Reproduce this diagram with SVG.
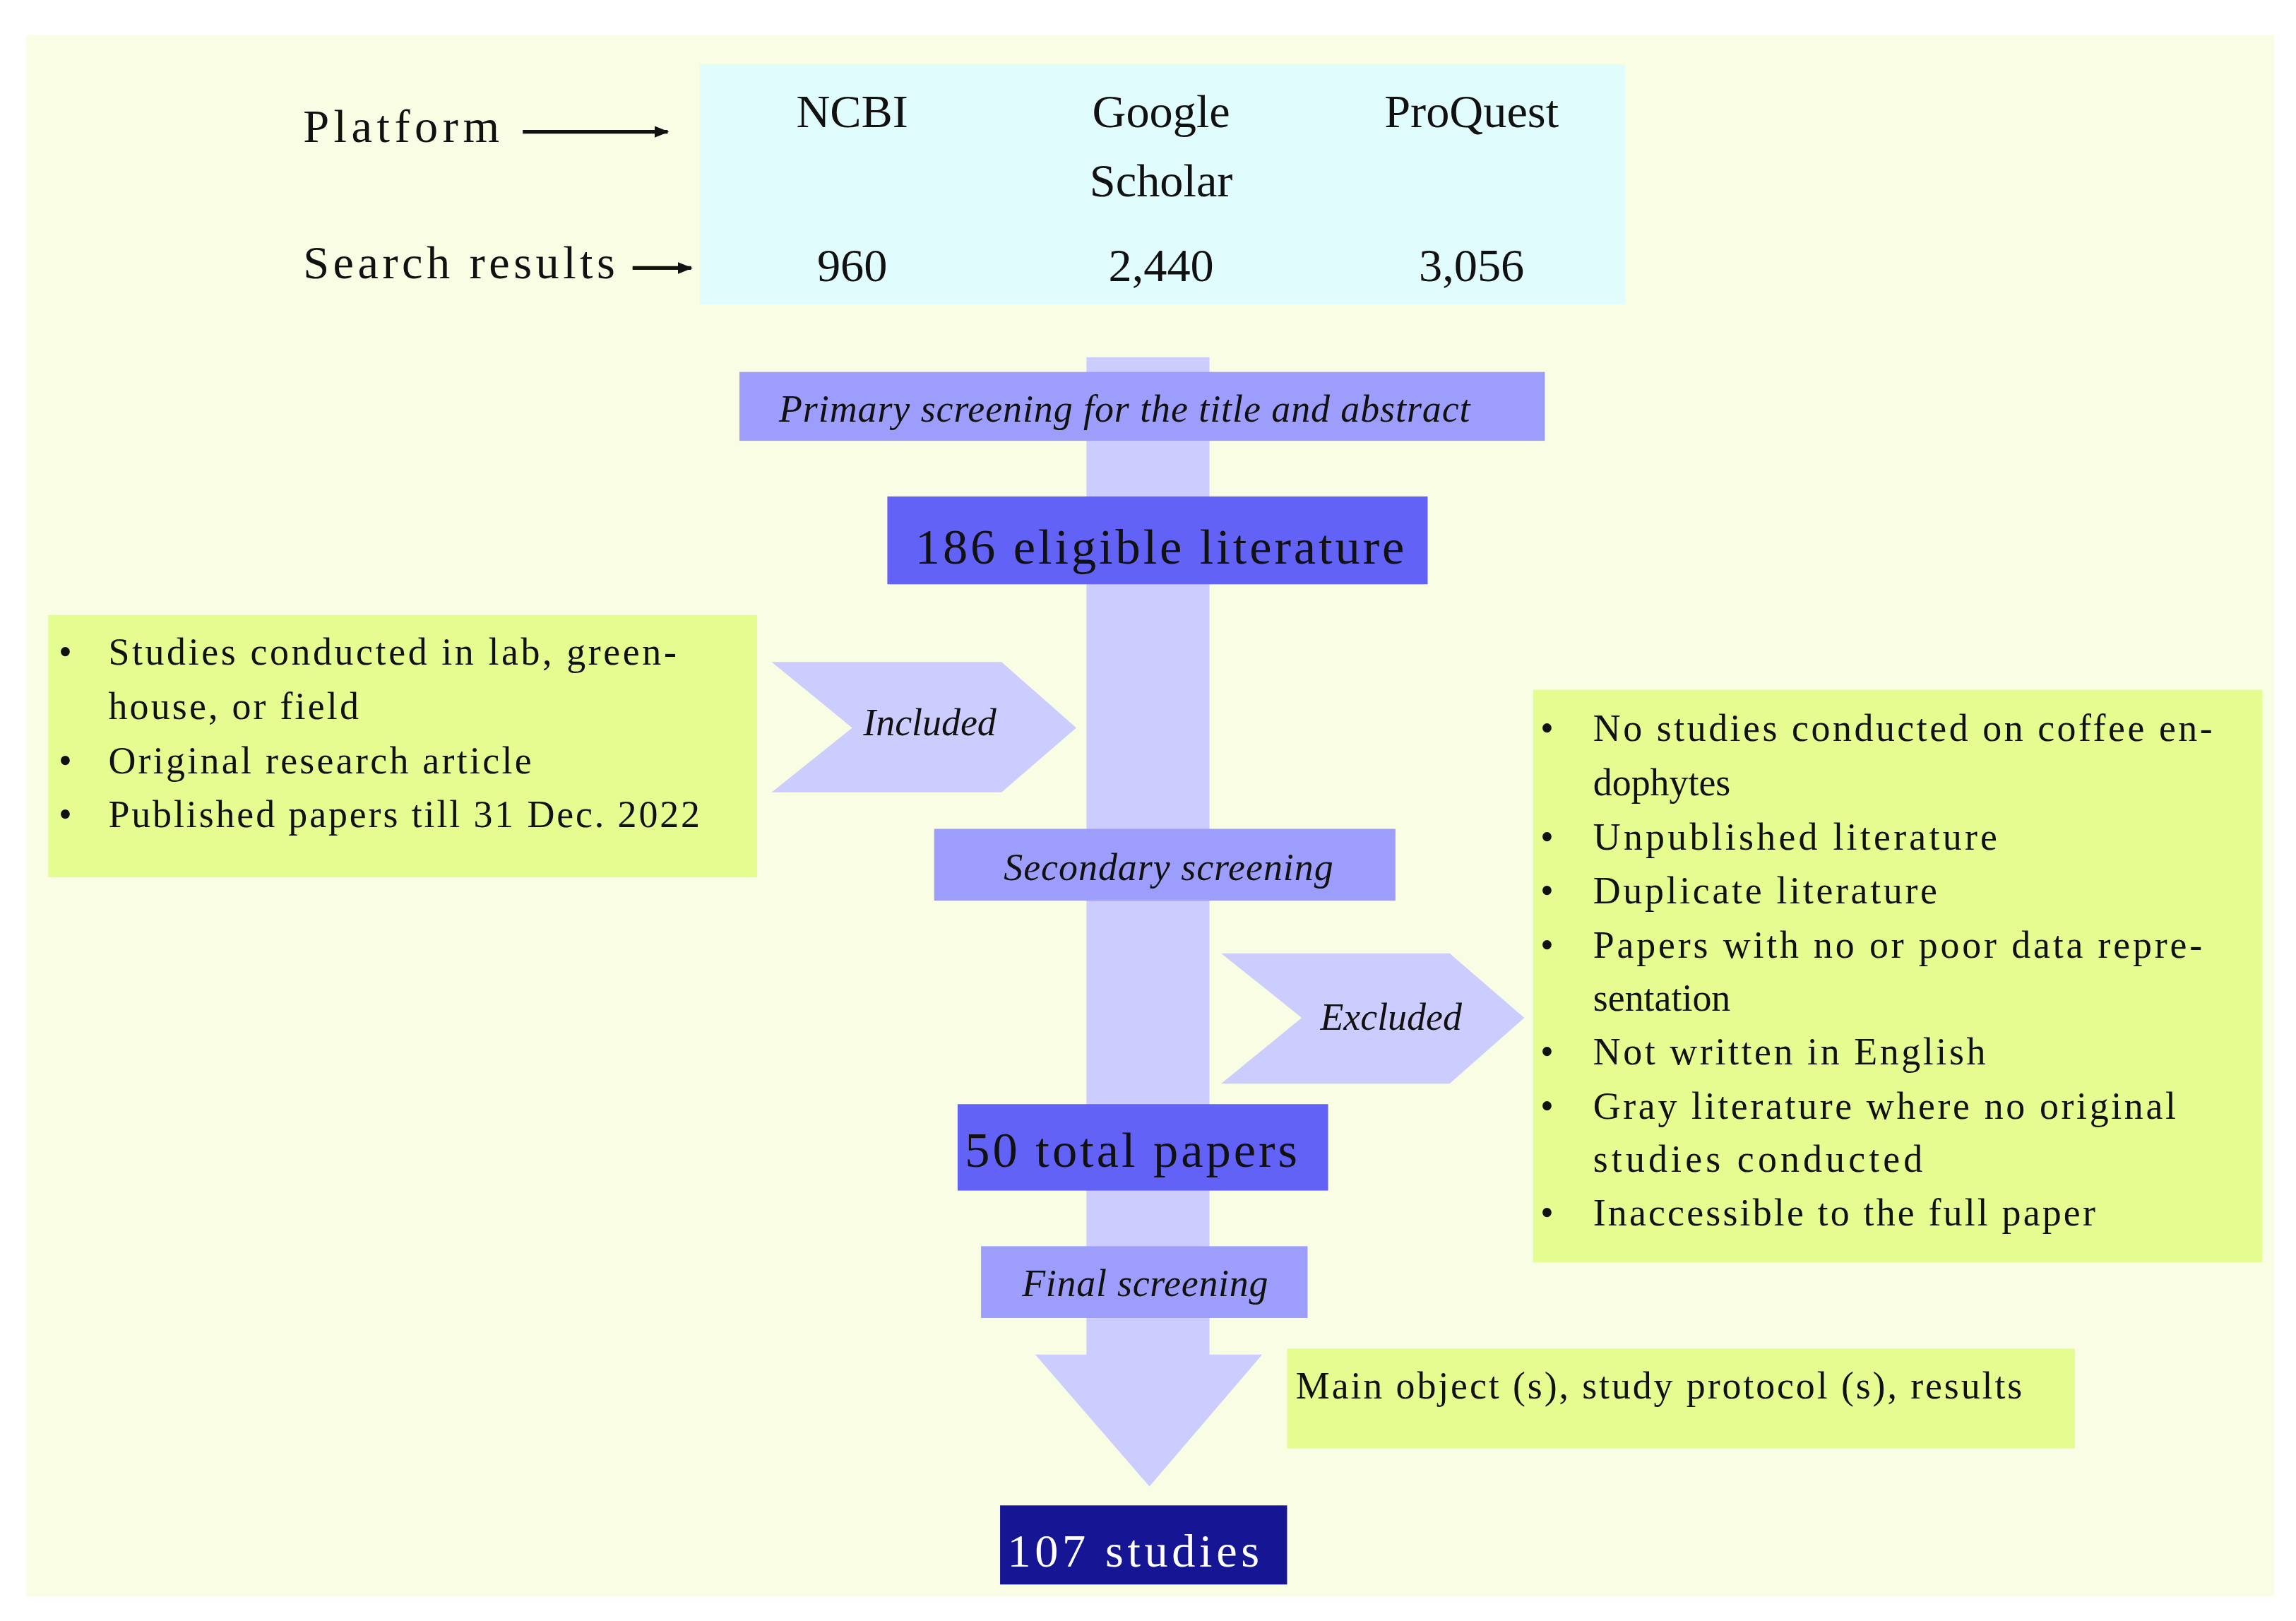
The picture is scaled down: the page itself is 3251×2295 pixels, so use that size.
<svg xmlns="http://www.w3.org/2000/svg" width="3251" height="2295" viewBox="0 0 3251 2295">
<style>
text{font-family:"Liberation Serif","Times New Roman",serif;fill:#111}
.t{font-size:27px}
.i{font-size:26px;font-style:italic}
.h{font-size:26px}
.big{font-size:34px}
.lav{fill:#ccccff}
.scr{fill:#9d9dfc}
.grn{fill:#e4fc90}
.mid{text-anchor:middle}
</style>
<defs><marker id="ah" markerWidth="10" markerHeight="8" refX="9" refY="4" orient="auto" markerUnits="userSpaceOnUse"><path d="M0,0L10,4L0,8z" fill="#111"/></marker></defs>
<rect width="3251" height="2295" fill="#fff"/>
<g transform="scale(2.0733)">
<rect x="18" y="24" width="1535" height="1066" fill="#f8fde4"/>
<g id="platforms">
<rect x="478" y="44" width="632" height="164" fill="#e0fcfc"/>
<text x="582" y="87" class="t mid" font-size="32" style="font-size:32px">NCBI</text>
<text x="793" y="87" class="t mid" style="font-size:32px">Google</text>
<text x="793" y="134" class="t mid" style="font-size:32px">Scholar</text>
<text x="1005" y="87" class="t mid" style="font-size:32px">ProQuest</text>
<text x="582" y="192" class="t mid" style="font-size:32px">960</text>
<text x="793" y="192" class="t mid" style="font-size:32px">2,440</text>
<text x="1005" y="192" class="t mid" style="font-size:32px">3,056</text>
</g>
<g id="labels">
<text x="207" y="97" style="font-size:32px" textLength="134">Platform</text>
<text x="207" y="190" style="font-size:32px" textLength="213">Search results</text>
</g>
<g id="connectors">
<line x1="357" y1="90" x2="456" y2="90" stroke="#111" stroke-width="2.5" marker-end="url(#ah)"/>
<line x1="432" y1="183" x2="472" y2="183" stroke="#111" stroke-width="2.5" marker-end="url(#ah)"/>
<rect x="742" y="244" width="84" height="682" class="lav"/>
<polygon points="707,925 862,925 785,1015" class="lav"/>
</g>
<g id="primary">
<rect x="505" y="254" width="550" height="47" class="scr"/>
<text x="532" y="288" class="i" textLength="472">Primary screening for the title and abstract</text>
</g>
<g id="eligible">
<rect x="606" y="339" width="369" height="60" fill="#6262f7"/>
<text x="625" y="385" class="big" textLength="334">186  eligible literature</text>
</g>
<g id="included-criteria">
<rect x="33" y="420" width="484" height="179" class="grn"/>
<g class="h">
<text x="40" y="454">•</text><text x="74" y="454" textLength="388">Studies conducted in lab, green-</text>
<text x="74" y="491" textLength="171">house, or field</text>
<text x="40" y="528">•</text><text x="74" y="528" textLength="289">Original research article</text>
<text x="40" y="565">•</text><text x="74" y="565" textLength="404">Published papers till 31 Dec. 2022</text>
</g>
</g>
<g id="included">
<polygon points="527,452 684,452 735,497 684,541 527,541 582,497" class="lav"/>
<text x="635" y="502" class="i mid">Included</text>
</g>
<g id="secondary">
<rect x="638" y="566" width="315" height="49" class="scr"/>
<text x="798" y="601" class="i mid" textLength="225">Secondary screening</text>
</g>
<g id="excluded">
<polygon points="834,651 990,651 1041,695 990,740 834,740 889,695" class="lav"/>
<text x="950" y="703" class="i mid">Excluded</text>
</g>
<g id="excluded-criteria">
<rect x="1047" y="471" width="498" height="391" class="grn"/>
<g class="h">
<text x="1052" y="506">•</text><text x="1088" y="506" textLength="423">No studies conducted on coffee en-</text>
<text x="1088" y="543">dophytes</text>
<text x="1052" y="580">•</text><text x="1088" y="580" textLength="276">Unpublished literature</text>
<text x="1052" y="617">•</text><text x="1088" y="617" textLength="235">Duplicate literature</text>
<text x="1052" y="654">•</text><text x="1088" y="654" textLength="416">Papers with no or poor data repre-</text>
<text x="1088" y="690">sentation</text>
<text x="1052" y="727">•</text><text x="1088" y="727" textLength="268">Not written in English</text>
<text x="1052" y="764">•</text><text x="1088" y="764" textLength="398">Gray literature where no original</text>
<text x="1088" y="800" textLength="225">studies  conducted</text>
<text x="1052" y="837">•</text><text x="1088" y="837" textLength="343">Inaccessible to the full paper</text>
</g>
</g>
<g id="total">
<rect x="654" y="754" width="253" height="59" fill="#6262f7"/>
<text x="659" y="797" class="big" textLength="227">50 total papers</text>
</g>
<g id="final">
<rect x="670" y="851" width="223" height="49" class="scr"/>
<text x="782" y="885" class="i mid" textLength="168">Final screening</text>
</g>
<g id="data">
<rect x="879" y="921" width="538" height="68" class="grn"/>
<text x="885" y="955" class="h" textLength="496">Main object (s), study protocol (s), results</text>
</g>
<g id="studies">
<rect x="683" y="1028" width="196" height="54" fill="#161694"/>
<text x="688" y="1070" style="font-size:32px;fill:#fff" textLength="172">107 studies</text>
</g>
</g>
</svg>
